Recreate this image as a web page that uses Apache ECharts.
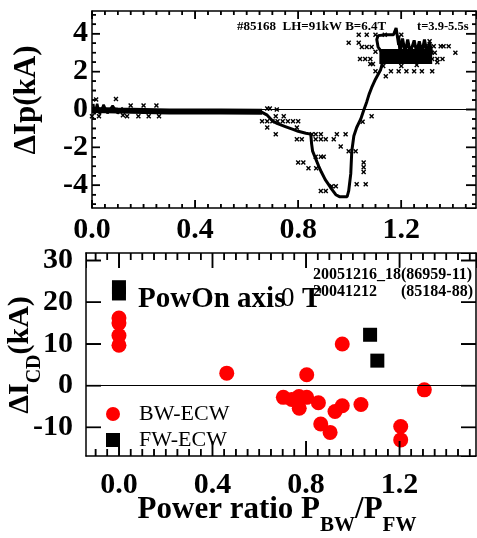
<!DOCTYPE html>
<html>
<head>
<meta charset="utf-8">
<script src="https://cdn.jsdelivr.net/npm/echarts@6/dist/echarts.min.js"></script>
<style>
html, body { margin: 0; padding: 0; background: #fff; }
#chart { width: 477px; height: 538px; }
</style>
</head>
<body>
<div id="chart"></div>
<script>
// ---- top panel: delta Ip vs power ratio, shot #85168 ----
// thick trace (time ordered path)
const ipTrace = [
  [0.60, -0.12], [0.66, -0.15], [0.68, -0.3], [0.69, -0.45], [0.70, -0.6], [0.72, -0.75],
  [0.75, -0.9], [0.78, -1.05], [0.80, -1.15], [0.83, -1.25], [0.849, -1.3], [0.852, -1.8],
  [0.856, -2.2], [0.865, -2.5], [0.88, -3.0], [0.89, -3.3], [0.905, -3.7], [0.915, -3.9],
  [0.93, -4.2], [0.946, -4.5], [0.96, -4.6], [0.99, -4.6], [0.996, -4.3], [1.004, -3.4],
  [1.008, -2.2], [1.016, -1.4], [1.027, -0.95], [1.043, -0.5], [1.054, -0.05], [1.066, 0.4],
  [1.075, 0.8], [1.085, 1.15], [1.10, 1.6], [1.11, 1.85], [1.12, 2.1], [1.13, 2.6],
  [1.125, 3.0], [1.11, 3.3], [1.105, 3.7], [1.11, 3.9], [1.14, 3.95], [1.17, 3.95],
  [1.18, 4.3], [1.19, 3.4]
];
// dense band of points near zero
const ipBand = [[0.0, -0.02], [0.1, -0.05], [0.3, -0.1], [0.5, -0.1], [0.66, -0.12]];
const ipBlob = [
  [0.005, 0.3], [0.01, -0.25], [0.02, 0.3], [0.03, -0.25], [0.045, 0.25],
  [0.06, -0.2], [0.08, 0.2], [0.1, -0.2], [0.12, 0.1]
];
// dense cluster at high power ratio
const ipBlock = [[1.115, 2.8], [1.32, 2.8]];
const ipFingers = [
  [1.19, 3.9], [1.195, 3.0], [1.205, 3.75], [1.215, 3.0], [1.225, 3.7], [1.235, 3.0],
  [1.25, 3.65], [1.26, 3.0], [1.27, 3.6], [1.28, 3.0], [1.29, 3.7], [1.30, 3.0], [1.31, 3.55], [1.32, 2.9]
];
const ipCrosses = [
  [0.016, 0.53], [0.093, 0.56], [0.0, -0.35], [0.027, -0.35], [0.12, -0.3], [0.136, -0.35],
  [0.15, 0.21], [0.18, -0.35], [0.20, 0.21], [0.22, -0.35], [0.25, 0.21], [0.26, -0.35],
  [0.68, 0.05], [0.69, 0.05], [0.717, 0.0], [0.713, -0.35], [0.744, -0.35],
  [0.66, -0.62], [0.68, -0.62], [0.70, -0.62], [0.72, -0.62], [0.74, -0.62], [0.76, -0.62],
  [0.78, -0.62], [0.80, -0.62], [0.68, -0.95], [0.795, -0.95], [0.713, -1.3],
  [0.853, -1.3], [0.868, -1.3], [0.888, -1.3], [0.95, -1.3], [0.984, -1.3],
  [0.795, -1.57], [0.814, -1.57], [0.868, -1.57], [0.888, -1.57], [0.907, -1.57], [0.938, -1.57],
  [0.965, -1.95], [0.996, -2.2], [1.023, -2.2], [0.868, -2.5], [0.888, -2.5], [0.899, -2.5],
  [0.80, -2.8], [0.82, -2.8], [0.84, -3.1], [0.87, -3.1], [1.054, -2.8], [1.054, -3.05],
  [1.054, -3.3], [1.027, -3.95], [1.062, -3.95], [0.888, -4.3], [0.907, -4.3], [0.93, -4.05],
  [0.946, -4.05], [1.05, -0.65], [1.085, -0.35],
  [0.996, 3.53], [1.035, 3.53], [1.035, 3.95], [1.066, 3.95], [1.10, 3.95], [1.136, 3.95],
  [1.20, 3.95], [1.31, 3.6], [1.047, 3.3], [1.066, 3.3], [1.085, 3.3], [1.295, 3.34],
  [1.326, 3.34], [1.353, 3.34], [1.364, 3.34], [1.384, 3.34], [1.41, 3.0],
  [1.04, 2.67], [1.06, 2.67], [1.08, 2.67], [1.30, 2.67], [1.32, 2.67], [1.34, 2.67], [1.36, 2.67],
  [1.08, 2.4], [1.09, 2.4], [1.10, 2.02], [1.16, 2.02], [1.19, 2.02], [1.22, 2.02],
  [1.25, 2.02], [1.28, 2.02], [1.32, 2.02], [1.14, 1.76],
  [1.10, 3.05], [1.13, 2.3], [1.20, 2.3], [1.26, 2.35], [1.33, 3.0], [1.34, 2.5]
];

// ---- bottom panel: delta I_CD vs power ratio ----
const bwEcw = [
  [0, 16.2], [0, 15.0], [0, 12.0], [0, 9.7], [0.461, 3.0], [0.803, 2.6], [0.955, 10.0],
  [1.306, -1.0], [0.703, -2.8], [0.739, -3.3], [0.77, -2.6], [0.803, -2.8], [0.771, -5.4],
  [0.853, -4.1], [0.924, -6.2], [0.955, -4.8], [1.035, -4.5], [0.863, -9.2], [0.903, -11.2],
  [1.205, -9.8], [1.205, -13.0]
];
const fwEcw = [[0, 23.6], [0, 22.1], [1.074, 12.2], [1.105, 6.0]];

// major ticks (labelled)
const topXTicks = [0, 0.4, 0.8, 1.2];
const topYTicks = [-4, -2, 0, 2, 4];
const botXTicks = [0, 0.4, 0.8, 1.2];
const botYTicks = [-10, 0, 10, 20, 30];

const SERIF = '"Liberation Serif", "DejaVu Serif", serif';
const CROSS = 'path://M0,2L2,0L5,3L8,0L10,2L7,5L10,8L8,10L5,7L2,10L0,8L3,5Z';

const TX = [0, 1.49], TY = [-5.2, 5.2];
const BX = [-0.141, 1.527], BY = [-16.86, 31.8];
const TOP_GRID = { left: 92, top: 11, width: 384, height: 197 };
const BOT_GRID = { left: 86, top: 253, width: 390, height: 203 };

// frame side; labels and major ticks fall on multiples of step
function frame(grid, pos, range, step, tickLen, label) {
  return {
    type: 'value', gridIndex: grid, position: pos, min: range[0], max: range[1],
    minInterval: step, maxInterval: step, splitNumber: Math.round((range[1] - range[0]) / step),
    axisLine: { show: true, onZero: false, lineStyle: { color: '#000', width: 1.5 } },
    axisTick: { show: true, inside: true, length: tickLen },
    axisLabel: label ? {
      show: true, showMinLabel: label.showMin || false, showMaxLabel: false, color: '#000',
      fontFamily: SERIF, fontWeight: 'bold', fontSize: 30, margin: label.margin, formatter: label.fmt
    } : { show: false },
    splitLine: { show: false }
  };
}

// tick list: [side, value, length px]
function tickList(majors, minorStep, range, side, majLen, minLen) {
  const out = majors.map(v => [side, v, majLen]);
  if (minorStep) {
    for (let k = Math.ceil(range[0] / minorStep); k * minorStep <= range[1] + 1e-9; k++) {
      const v = +(k * minorStep).toFixed(4);
      if (!majors.some(m => Math.abs(m - v) < 1e-6)) out.push([side, v, minLen]);
    }
  }
  return out;
}
// tick marks as thin rect symbols on the frame, pointing inward
function tickSymbols(list, xr, yr) {
  return list.map(([side, v, len]) => {
    if (side === 'b') return { value: [v, yr[0]], symbolSize: [1.6, len], symbolOffset: [0, -len / 2] };
    if (side === 't') return { value: [v, yr[1]], symbolSize: [1.6, len], symbolOffset: [0, len / 2] };
    if (side === 'l') return { value: [xr[0], v], symbolSize: [len, 1.6], symbolOffset: [len / 2, 0] };
    return { value: [xr[1], v], symbolSize: [len, 1.6], symbolOffset: [-len / 2, 0] };
  });
}
// same tick marks as broken line segments (pixel length converted through the grid scale)
function tickSegments(list, xr, yr, g) {
  const ux = (xr[1] - xr[0]) / g.width, uy = (yr[1] - yr[0]) / g.height;
  const out = [];
  list.forEach(([side, v, len]) => {
    if (side === 'b') out.push([v, yr[0]], [v, yr[0] + len * uy]);
    else if (side === 't') out.push([v, yr[1]], [v, yr[1] - len * uy]);
    else if (side === 'l') out.push([xr[0], v], [xr[0] + len * ux, v]);
    else out.push([xr[1], v], [xr[1] - len * ux, v]);
    out.push([v, '-']);
  });
  return out;
}

const topTickList = [].concat(
  tickList(topXTicks, 0.05, TX, 'b', 8, 4), tickList(topXTicks, 0.05, TX, 't', 8, 4),
  tickList(topYTicks, 0.5, TY, 'l', 8, 4), tickList(topYTicks, 0.5, TY, 'r', 10, 4)
);
const botTickList = [].concat(
  tickList(botXTicks, 0.05, BX, 'b', 15, 7), tickList(botXTicks, 0.05, BX, 't', 15, 7),
  tickList(botYTicks, 0, BY, 'l', 15, 0), tickList(botYTicks, 0, BY, 'r', 15, 0)
);

const fix1 = v => v.toFixed(1);
const zeroLine = () => ({
  silent: true, symbol: ['none', 'none'], label: { show: false },
  lineStyle: { color: '#000', width: 1, type: 'solid' },
  data: [{ yAxis: 0 }]
});

const option = {
  backgroundColor: '#fff',
  animation: false,
  grid: [TOP_GRID, BOT_GRID],
  xAxis: [
    frame(0, 'bottom', TX, 0.4, 8, { margin: 7, fmt: fix1, showMin: true }),
    frame(0, 'top', TX, 0.4, 8),
    frame(1, 'bottom', BX, 0.4, 15, { margin: 14, fmt: fix1 }),
    frame(1, 'top', BX, 0.4, 15)
  ],
  yAxis: [
    frame(0, 'left', TY, 2, 8, { margin: 4 }),
    frame(0, 'right', TY, 2, 10),
    frame(1, 'left', BY, 10, 15, { margin: 13 }),
    frame(1, 'right', BY, 10, 15)
  ],
  legend: {
    data: ['BW-ECW', 'FW-ECW'], orient: 'vertical', left: 106, top: 403, padding: 0,
    itemWidth: 14, itemHeight: 14, itemGap: 4,
    textStyle: { fontFamily: SERIF, fontSize: 22, color: '#000', padding: [0, 0, 0, 14] }
  },
  graphic: [
    { type: 'text', x: 27, y: 100, rotation: Math.PI / 2,
      style: { text: 'ΔIp(kA)', font: 'bold 31px ' + SERIF, fill: '#000', align: 'center', verticalAlign: 'middle' } },
    { type: 'text', x: 25, y: 355, rotation: Math.PI / 2,
      style: { text: '{a|ΔI}{s|CD}{a|(kA)}', align: 'center', verticalAlign: 'middle',
        rich: {
          a: { fontFamily: SERIF, fontWeight: 'bold', fontSize: 30, lineHeight: 40, verticalAlign: 'top', fill: '#000' },
          s: { fontFamily: SERIF, fontWeight: 'bold', fontSize: 20, verticalAlign: 'bottom', fill: '#000' }
        } } },
    { type: 'text', x: 277, y: 515,
      style: { text: '{a|Power ratio P}{s|BW}{a|/P}{s|FW}', align: 'center', verticalAlign: 'middle',
        rich: {
          a: { fontFamily: SERIF, fontWeight: 'bold', fontSize: 31, lineHeight: 42, verticalAlign: 'top', fill: '#000' },
          s: { fontFamily: SERIF, fontWeight: 'bold', fontSize: 21, verticalAlign: 'bottom', fill: '#000' }
        } } },
    { type: 'text', x: 237, y: 20,
      style: { text: '#85168  LH=91kW B=6.4T', font: 'bold 13px ' + SERIF, fill: '#000', verticalAlign: 'alphabetic' } },
    { type: 'text', x: 417, y: 20,
      style: { text: 't=3.9-5.5s', font: 'bold 12.5px ' + SERIF, fill: '#000', verticalAlign: 'alphabetic' } },
    { type: 'text', x: 138, y: 285,
      style: { text: 'PowOn axis', font: 'bold 29px ' + SERIF, fill: '#000', verticalAlign: 'alphabetic' } },
    { type: 'text', x: 281, y: 285,
      style: { text: '0', font: '27px ' + SERIF, fill: '#000', verticalAlign: 'alphabetic' } },
    { type: 'text', x: 302, y: 285,
      style: { text: 'T', font: 'bold 29px ' + SERIF, fill: '#000', verticalAlign: 'alphabetic' } },
    { type: 'text', x: 313, y: 275, z: 10,
      style: { text: '20051216_18(86959-11)', font: 'bold 16px ' + SERIF, fill: '#000',
        verticalAlign: 'middle', backgroundColor: '#fff' } },
    { type: 'text', x: 313, y: 292, z: 10,
      style: { text: '20041212', font: 'bold 16px ' + SERIF, fill: '#000', verticalAlign: 'middle' } },
    { type: 'text', x: 473, y: 292, z: 10,
      style: { text: '(85184-88)', font: 'bold 16px ' + SERIF, fill: '#000', align: 'right', verticalAlign: 'middle' } }
  ],
  series: [
    { type: 'scatter', name: 'topTicks', xAxisIndex: 0, yAxisIndex: 0, zlevel: 1,
      data: tickSymbols(topTickList, TX, TY), symbol: 'rect', clip: false,
      itemStyle: { color: '#000', opacity: 1 } },
    { type: 'scatter', name: 'botTicks', xAxisIndex: 2, yAxisIndex: 2, zlevel: 1,
      data: tickSymbols(botTickList, BX, BY), symbol: 'rect', clip: false,
      itemStyle: { color: '#000', opacity: 1 } },
    { type: 'line', name: 'topTickLines', xAxisIndex: 0, yAxisIndex: 0, symbol: 'none', connectNulls: false,
      data: tickSegments(topTickList, TX, TY, TOP_GRID), lineStyle: { color: '#000', width: 1.4 } },
    { type: 'line', name: 'botTickLines', xAxisIndex: 2, yAxisIndex: 2, symbol: 'none', connectNulls: false,
      data: tickSegments(botTickList, BX, BY, BOT_GRID), lineStyle: { color: '#000', width: 1.4 } },
    { type: 'line', name: 'band', xAxisIndex: 0, yAxisIndex: 0, data: ipBand, symbol: 'none',
      lineStyle: { color: '#000', width: 6 }, markLine: zeroLine() },
    { type: 'line', name: 'blob', xAxisIndex: 0, yAxisIndex: 0, data: ipBlob, symbol: 'none',
      lineStyle: { color: '#000', width: 2.5 } },
    { type: 'line', name: 'trace', xAxisIndex: 0, yAxisIndex: 0, data: ipTrace, symbol: 'none',
      lineStyle: { color: '#000', width: 3 } },
    { type: 'line', name: 'block', xAxisIndex: 0, yAxisIndex: 0, data: ipBlock, symbol: 'none',
      lineStyle: { color: '#000', width: 15, cap: 'butt' } },
    { type: 'line', name: 'fingers', xAxisIndex: 0, yAxisIndex: 0, data: ipFingers, symbol: 'none',
      lineStyle: { color: '#000', width: 3 } },
    { type: 'scatter', name: 'points', xAxisIndex: 0, yAxisIndex: 0, data: ipCrosses,
      symbol: CROSS, symbolSize: 5, itemStyle: { color: '#000', opacity: 1 } },
    { type: 'scatter', name: 'BW-ECW', xAxisIndex: 2, yAxisIndex: 2, data: bwEcw,
      symbol: 'circle', symbolSize: 15, itemStyle: { color: '#ff0000', opacity: 1 }, markLine: zeroLine() },
    { type: 'scatter', name: 'FW-ECW', xAxisIndex: 2, yAxisIndex: 2, data: fwEcw,
      symbol: 'rect', symbolSize: 14, itemStyle: { color: '#000', opacity: 1 } }
  ]
};

const chart = echarts.init(document.getElementById('chart'));
chart.setOption(option);
</script>
</body>
</html>
